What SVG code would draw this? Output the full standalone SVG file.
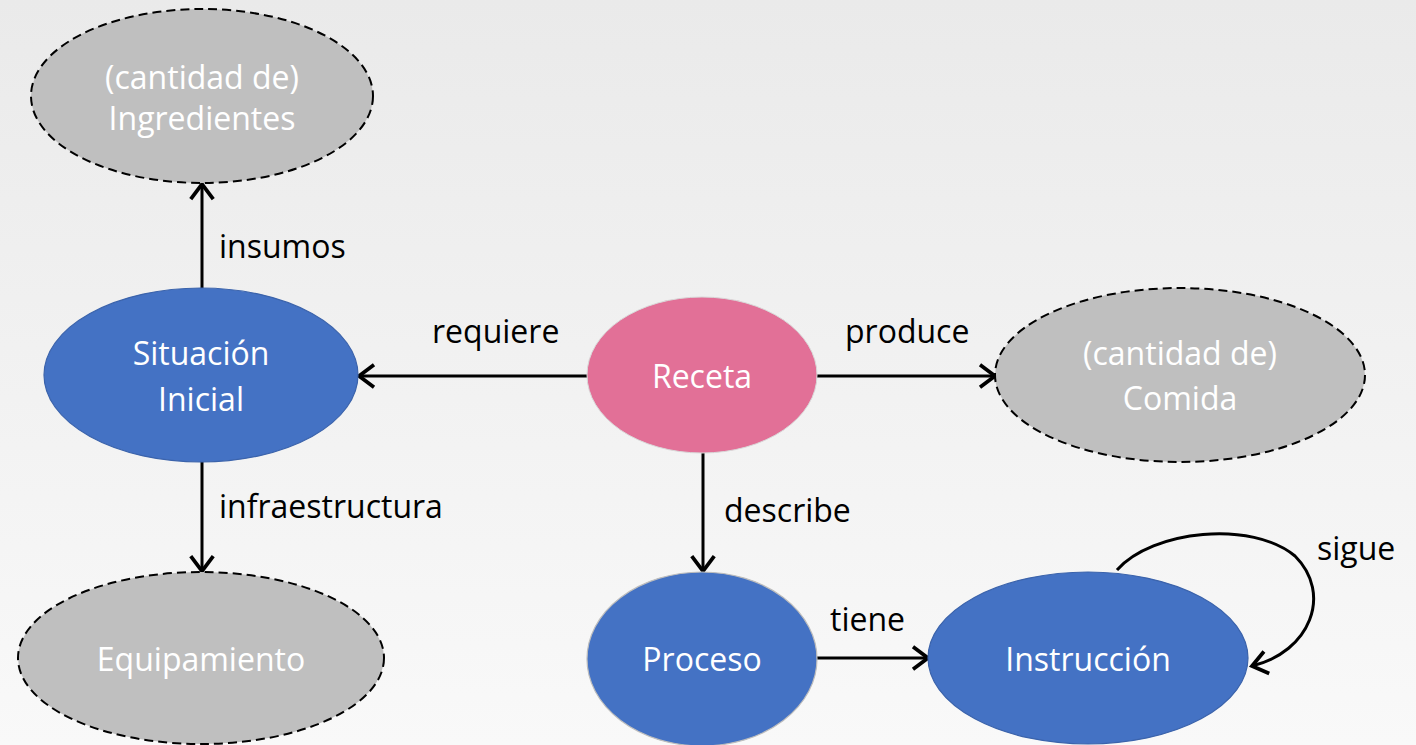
<svg xmlns="http://www.w3.org/2000/svg" width="1416" height="745" viewBox="0 0 1416 745">
  <defs>
    <linearGradient id="bg" x1="0" y1="0" x2="0" y2="1">
      <stop offset="0" stop-color="#eaeaea"/>
      <stop offset="1" stop-color="#f9f9f9"/>
    </linearGradient>
    <marker id="arrow" markerUnits="userSpaceOnUse" markerWidth="30" markerHeight="30" viewBox="-16 -12 20 24" refX="0" refY="0" orient="auto">
      <path d="M-12,-9 L0,0 L-12,9" fill="none" stroke="#000" stroke-width="3" stroke-linejoin="miter"/>
    </marker>
    <style>
      .blue { fill: #4472c4; stroke: #3b63ab; stroke-width: 1.2; }
      .pink { fill: #e27097; stroke: #d9d9d9; stroke-width: 1; }
      .ghost { fill: #bfbfbf; stroke: #000; stroke-width: 2; stroke-dasharray: 9 5; }
      .ntext { font-family: "Open Sans", "Liberation Sans", sans-serif; font-size: 32px; fill: #ffffff; text-anchor: middle; }
      .elabel { font-family: "Open Sans", "Liberation Sans", sans-serif; font-size: 32px; fill: #000; }
      .edge { fill: none; stroke: #000; stroke-width: 3; marker-end: url(#arrow); }
    </style>
  </defs>

  <rect x="0" y="0" width="1416" height="745" fill="url(#bg)"/>

  <!-- connectors -->
  <g id="connectors">
    <line class="edge" x1="202" y1="288" x2="202" y2="184"/>
    <text class="elabel" x="219" y="258">insumos</text>

    <line class="edge" x1="587" y1="376" x2="359" y2="376"/>
    <text class="elabel" x="432" y="343">requiere</text>

    <line class="edge" x1="817" y1="376" x2="995" y2="376"/>
    <text class="elabel" x="845" y="343">produce</text>

    <line class="edge" x1="202" y1="462" x2="202" y2="571"/>
    <text class="elabel" x="219" y="518">infraestructura</text>

    <line class="edge" x1="703" y1="452" x2="703" y2="571"/>
    <text class="elabel" x="724" y="522">describe</text>

    <line class="edge" x1="817" y1="658" x2="928" y2="658"/>
    <text class="elabel" x="830" y="631">tiene</text>

    <path class="edge" d="M1117,570 C1152,530 1252,520 1295,556 C1333,594 1310,652 1252,666"/>
    <text class="elabel" x="1317" y="560">sigue</text>
  </g>

  <!-- nodes -->
  <g id="ingredientes">
    <ellipse class="ghost" cx="202" cy="96" rx="171" ry="87"/>
    <text class="ntext" x="202" y="89">(cantidad de)</text>
    <text class="ntext" x="202" y="130">Ingredientes</text>
  </g>

  <g id="situacion-inicial">
    <ellipse class="blue" cx="201" cy="375" rx="157" ry="87"/>
    <text class="ntext" x="201" y="365">Situación</text>
    <text class="ntext" x="201" y="411">Inicial</text>
  </g>

  <g id="equipamiento">
    <ellipse class="ghost" cx="201" cy="658" rx="183" ry="86"/>
    <text class="ntext" x="201" y="671">Equipamiento</text>
  </g>

  <g id="receta">
    <ellipse class="pink" cx="702" cy="375" rx="115" ry="78"/>
    <text class="ntext" x="702" y="388">Receta</text>
  </g>

  <g id="comida">
    <ellipse class="ghost" cx="1180" cy="375" rx="185" ry="87"/>
    <text class="ntext" x="1180" y="365">(cantidad de)</text>
    <text class="ntext" x="1180" y="410">Comida</text>
  </g>

  <g id="proceso">
    <ellipse class="blue" cx="702" cy="659" rx="115" ry="87" style="stroke:#bdbdbd"/>
    <text class="ntext" x="702" y="671">Proceso</text>
  </g>

  <g id="instruccion">
    <ellipse class="blue" cx="1088" cy="658" rx="160" ry="86"/>
    <text class="ntext" x="1088" y="671">Instrucción</text>
  </g>
</svg>
